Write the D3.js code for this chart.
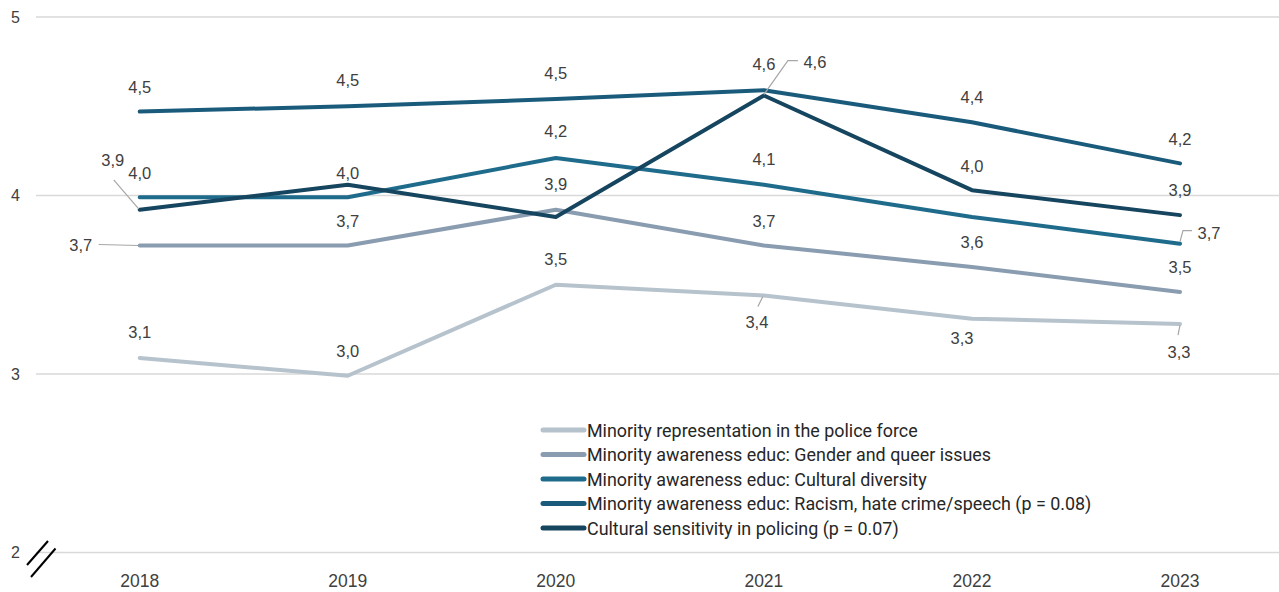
<!DOCTYPE html>
<html>
<head>
<meta charset="utf-8">
<script src="https://cdn.jsdelivr.net/npm/d3@7"></script>
<style>
  html, body { margin: 0; padding: 0; background: #ffffff; }
  svg { display: block; }
</style>
</head>
<body>
<svg id="chart" width="1279" height="592"></svg>
<script>
// ---- data ----
const years = ["2018", "2019", "2020", "2021", "2022", "2023"];
const yTicks = [2, 3, 4, 5];

const seriesNames = [
  "Minority representation in the police force",
  "Minority awareness educ: Gender and queer issues",
  "Minority awareness educ: Cultural diversity",
  "Minority awareness educ: Racism, hate crime/speech (p = 0.08)",
  "Cultural sensitivity in policing (p = 0.07)"
];

const representation   = [3.09, 2.99, 3.50, 3.44, 3.31, 3.28];
const genderQueer      = [3.72, 3.72, 3.92, 3.72, 3.60, 3.46];
const culturalDiversity = [3.99, 3.99, 4.21, 4.06, 3.88, 3.73];
const racismHate       = [4.47, 4.50, 4.54, 4.59, 4.41, 4.18];
const culturalSensitivity = [3.92, 4.06, 3.88, 4.56, 4.03, 3.89];

const seriesValues = [representation, genderQueer, culturalDiversity, racismHate, culturalSensitivity];

// ---- styling ----
const colors = ["#b6c3cd", "#8a9cb0", "#1f6b8c", "#1a5b7c", "#16455f"];
const labelFont = "'Liberation Sans', Arial, sans-serif";
const textColor = "#404040";

// label placement per series / year: null = no label;
// dx, dy = label centre offset from the point; leader = polyline offsets from the point
const labelPlacement = [
  [ {dx: 0, dy: -26}, {dx: 0, dy: -25}, {dx: 0, dy: -26},
    {dx: -7, dy: 27, leader: [[-1, 1], [-6, 11]]},
    {dx: -10, dy: 19},
    {dx: -1, dy: 28, leader: [[0, 1], [-2, 11]]} ],
  [ {dx: -59, dy: 0, leader: [[-1, 0], [-41, -1]]},
    {dx: 0, dy: -24}, {dx: 0, dy: -26}, {dx: 0, dy: -24}, {dx: 0, dy: -25}, {dx: 0, dy: -25} ],
  [ {dx: 0, dy: -24}, {dx: 0, dy: -24}, {dx: 0, dy: -27}, {dx: 0, dy: -26}, null,
    {dx: 29, dy: -11, leader: [[0, -2], [3, -13], [12, -13]]} ],
  [ {dx: 0, dy: -25}, {dx: 0, dy: -26}, {dx: 0, dy: -26}, {dx: 0, dy: -26}, {dx: 0, dy: -25}, {dx: 0, dy: -24} ],
  [ {dx: -27, dy: -50, leader: [[-1, -1], [-26, -30]]},
    null, null,
    {dx: 51, dy: -34, leader: [[0, -1], [24, -35], [34, -35]]},
    {dx: 0, dy: -24}, {dx: 0, dy: -25} ]
];

const fmt = v => d3.format(".1f")(v).replace(".", ",");

const svg = d3.select("#chart");

// ---- scales ----
const x = d3.scalePoint().domain(years).range([139.7, 1180]);
const y = d3.scaleLinear().domain([2, 5]).range([552.5, 17]);

// ---- grid lines ----
svg.append("g")
  .selectAll("line")
  .data(yTicks)
  .join("line")
  .attr("x1", 36).attr("x2", 1279)
  .attr("y1", d => y(d)).attr("y2", d => y(d))
  .attr("stroke", "#d9d9d9")
  .attr("stroke-width", 1.3);

// ---- y axis labels ----
svg.append("g")
  .selectAll("text")
  .data(yTicks)
  .join("text")
  .attr("x", 20)
  .attr("y", d => y(d))
  .attr("text-anchor", "end")
  .attr("dominant-baseline", "central")
  .attr("font-family", labelFont)
  .attr("font-size", 16)
  .attr("fill", textColor)
  .text(d => d);

// ---- x axis labels ----
svg.append("g")
  .selectAll("text")
  .data(years)
  .join("text")
  .attr("x", d => x(d))
  .attr("y", 581)
  .attr("text-anchor", "middle")
  .attr("dominant-baseline", "central")
  .attr("font-family", labelFont)
  .attr("font-size", 17.5)
  .attr("fill", textColor)
  .text(d => d);

// ---- axis break marks ----
const brk = svg.append("g").attr("stroke", "#000").attr("stroke-width", 2);
brk.append("line").attr("x1", 27).attr("y1", 565).attr("x2", 48).attr("y2", 541);
brk.append("line").attr("x1", 31).attr("y1", 577).attr("x2", 55.5).attr("y2", 548.5);

// ---- lines ----
const line = d3.line()
  .x((d, i) => x(years[i]))
  .y(d => y(d));

svg.append("g")
  .selectAll("path")
  .data(seriesValues)
  .join("path")
  .attr("d", d => line(d))
  .attr("fill", "none")
  .attr("stroke", (d, i) => colors[i])
  .attr("stroke-width", 4)
  .attr("stroke-linejoin", "round")
  .attr("stroke-linecap", "round");

// ---- data labels ----
const labelsG = svg.append("g");
seriesValues.forEach((vals, si) => {
  vals.forEach((v, yi) => {
    const p = labelPlacement[si][yi];
    if (!p) return;
    const px = x(years[yi]), py = y(v);
    if (p.leader) {
      labelsG.append("polyline")
        .attr("points", p.leader.map(o => [px + o[0], py + o[1]].join(",")).join(" "))
        .attr("fill", "none")
        .attr("stroke", "#a6a6a6")
        .attr("stroke-width", 1.2);
    }
    labelsG.append("text")
      .attr("x", px + p.dx)
      .attr("y", py + p.dy)
      .attr("text-anchor", "middle")
      .attr("dominant-baseline", "central")
      .attr("font-family", labelFont)
      .attr("font-size", 16.5)
      .attr("fill", textColor)
      .text(fmt(v));
  });
});

// ---- legend ----
const legend = svg.append("g").attr("transform", "translate(541,430)");
const rows = legend.selectAll("g")
  .data(seriesNames)
  .join("g")
  .attr("transform", (d, i) => `translate(0,${i * 24.5})`);
rows.append("line")
  .attr("x1", 2).attr("x2", 43)
  .attr("y1", 0).attr("y2", 0)
  .attr("stroke", (d, i) => colors[i])
  .attr("stroke-width", 5)
  .attr("stroke-linecap", "round");
rows.append("text")
  .attr("x", 46)
  .attr("y", 0)
  .attr("dominant-baseline", "central")
  .attr("font-family", "Roboto, sans-serif")
  .attr("font-size", 17.9)
  .attr("fill", "#262626")
  .text(d => d);
</script>
</body>
</html>
